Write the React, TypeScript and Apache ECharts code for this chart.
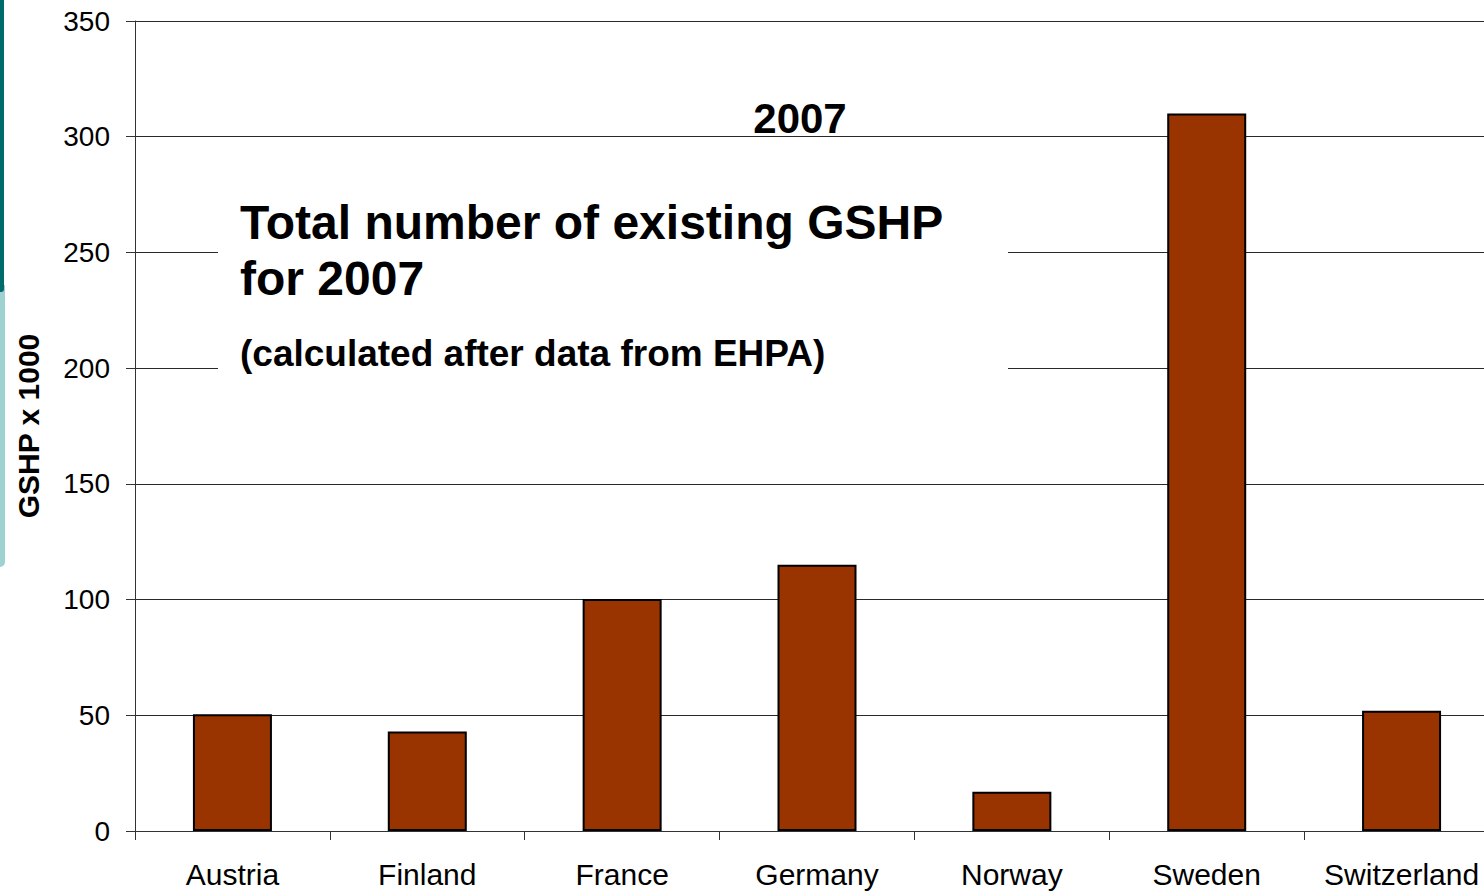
import React, { useEffect, useRef } from "react";
import * as echarts from "echarts";

const countries = ["Austria", "Finland", "France", "Germany", "Norway", "Sweden", "Switzerland"];
const gshpThousands = [50.5, 43, 100.3, 115, 17, 310, 52];
const yTicks = { min: 0, max: 350, interval: 50 };
const yAxisName = "GSHP x 1000";
const yearLabel = "2007";
const titleLine1 = "Total number of existing GSHP";
const titleLine2 = "for 2007";
const subtitle = "(calculated after data from EHPA)";

const FONT = "'Liberation Sans', Arial, Helvetica, sans-serif";

export default function App() {
  const ref = useRef<HTMLDivElement>(null);
  useEffect(() => {
    if (!ref.current) return;
    const chart = echarts.init(ref.current, null, { renderer: "svg" });
    chart.setOption({
      animation: false,
      backgroundColor: "#ffffff",
      grid: { left: 135, top: 21, bottom: 64, right: 0, containLabel: false },
      xAxis: {
        type: "category",
        data: countries,
        axisLine: { show: true, lineStyle: { color: "#333333", width: 1 } },
        axisTick: { show: true, length: 9, inside: false, alignWithLabel: false, lineStyle: { color: "#333333" } },
        axisLabel: { color: "#000000", fontSize: 30, fontFamily: FONT, margin: 28, interval: 0 },
        splitLine: { show: false },
      },
      yAxis: {
        type: "value",
        min: yTicks.min,
        max: yTicks.max,
        interval: yTicks.interval,
        name: yAxisName,
        nameLocation: "middle",
        nameGap: 92,
        nameRotate: 90,
        nameTextStyle: { color: "#000000", fontSize: 30, fontWeight: "bold", fontFamily: FONT },
        axisLine: { show: true, lineStyle: { color: "#333333", width: 1 } },
        axisTick: { show: true, length: 9, lineStyle: { color: "#333333" } },
        axisLabel: { color: "#000000", fontSize: 28, fontFamily: FONT, margin: 25 },
        splitLine: { show: true, lineStyle: { color: "#2a2a2a", width: 1 } },
      },
      series: [
        {
          type: "bar",
          data: gshpThousands,
          barWidth: 79,
          itemStyle: { color: "#993300", borderColor: "#000000", borderWidth: 2 },
          z: 2,
        },
      ],
      graphic: [
        { type: "rect", z: 10, shape: { x: 0, y: 0, width: 4, height: 292, r: [0, 0, 3, 0] }, style: { fill: "#006b6b" } },
        { type: "rect", z: 9, shape: { x: 0, y: 285, width: 5, height: 282, r: [0, 0, 5, 0] }, style: { fill: "#9fd1d1" } },
        { type: "rect", z: 10, shape: { x: 218, y: 160, width: 790, height: 240 }, style: { fill: "#ffffff" } },
        {
          type: "text", z: 20, x: 800, y: 118,
          style: { text: yearLabel, fill: "#000000", font: `bold 42px ${FONT}`, textAlign: "center", textVerticalAlign: "middle" },
        },
        {
          type: "text", z: 20, x: 240, y: 222,
          style: { text: titleLine1, fill: "#000000", font: `bold 48px ${FONT}`, textAlign: "left", textVerticalAlign: "middle" },
        },
        {
          type: "text", z: 20, x: 240, y: 278,
          style: { text: titleLine2, fill: "#000000", font: `bold 48px ${FONT}`, textAlign: "left", textVerticalAlign: "middle" },
        },
        {
          type: "text", z: 20, x: 240, y: 353,
          style: { text: subtitle, fill: "#000000", font: `bold 37px ${FONT}`, textAlign: "left", textVerticalAlign: "middle" },
        },
      ],
    });
    return () => chart.dispose();
  }, []);
  return (
    <div style={{ position: "fixed", left: 0, top: 0, width: 1484, height: 895, overflow: "hidden", background: "#ffffff" }}>
      <div ref={ref} style={{ position: "absolute", left: 0, top: 0, width: 1499, height: 895 }} />
    </div>
  );
}
